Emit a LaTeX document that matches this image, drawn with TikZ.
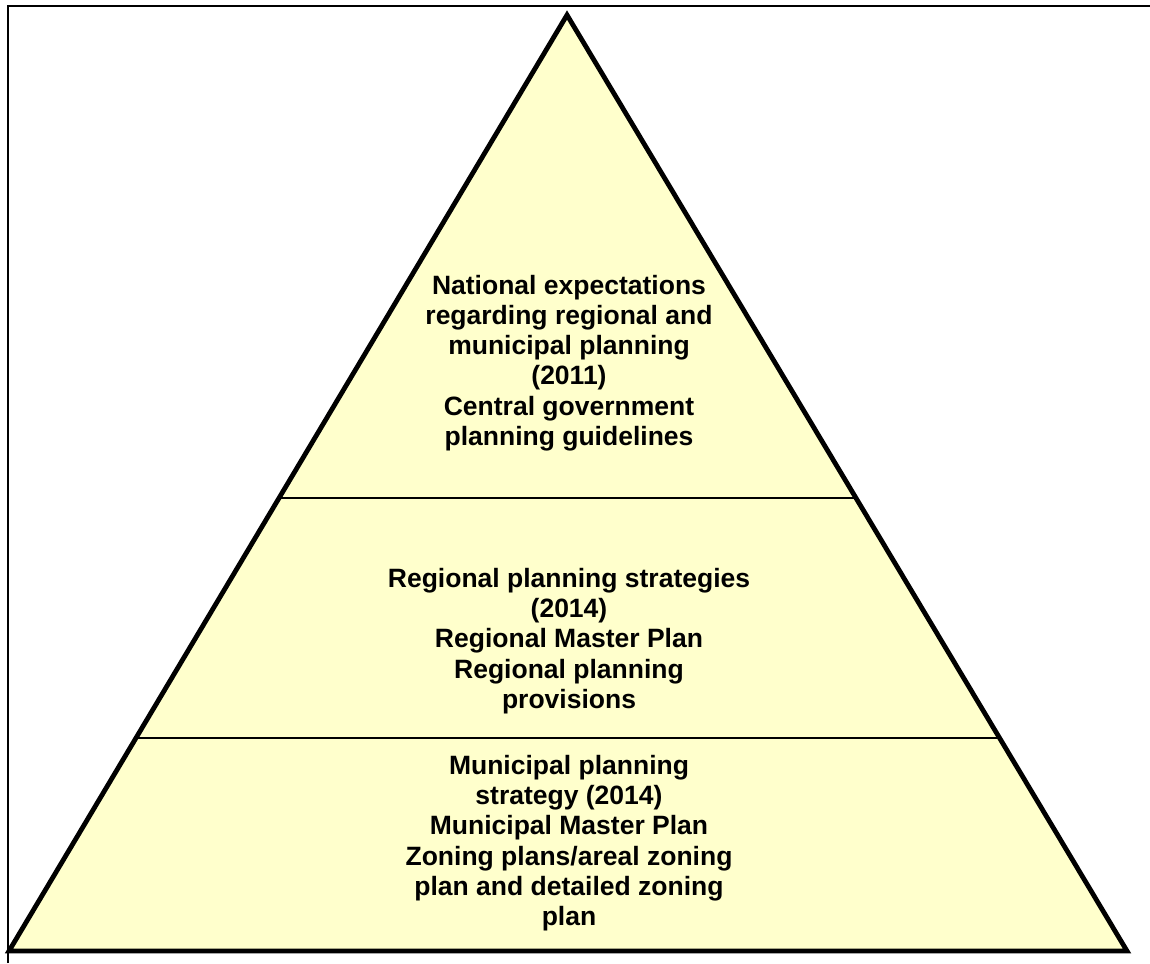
\documentclass[tikz,border=0pt]{standalone}
\usepackage{fontspec}
\setmainfont{Liberation Sans}
\definecolor{tierfill}{HTML}{FFFFCC}
\begin{document}
\begin{tikzpicture}[x=1pt,y=-1pt,
  tier/.style={fill=tierfill,draw=black,line width=4.8pt,line join=miter},
  divider/.style={draw=black,line width=2.6pt},
  label/.style={align=center,font=\bfseries\fontsize{26.5}{30.3}\selectfont,inner sep=0pt}]
  \useasboundingbox (0,0) rectangle (1150,963);
  % frame on top and left
  \draw[line width=1.5pt] (8,963) -- (8,6) -- (1150,6);
  % pyramid corners
  \coordinate (apex) at (567,15);
  \coordinate (bl) at (9,951);
  \coordinate (br) at (1127,951);
  \draw[tier] (apex) -- (bl) -- (br) -- cycle;
  % tier boundaries
  \path (apex) -- (bl) coordinate[pos=0.5160] (d1l);
  \path (apex) -- (br) coordinate[pos=0.5160] (d1r);
  \path (apex) -- (bl) coordinate[pos=0.7725] (d2l);
  \path (apex) -- (br) coordinate[pos=0.7725] (d2r);
  \draw[divider] (d1l) -- (d1r);
  \draw[divider] (d2l) -- (d2r);
  % tier texts
  \node[label] (top) at (569,363) {National expectations\\regarding regional and\\municipal planning\\(2011)\\Central government\\planning guidelines};
  \node[label] (mid) at (569,641) {Regional planning strategies\\(2014)\\Regional Master Plan\\Regional planning\\provisions};
  \node[label] (low) at (569,843) {Municipal planning\\strategy (2014)\\Municipal Master Plan\\Zoning plans/areal zoning\\plan and detailed zoning\\plan};
\end{tikzpicture}
\end{document}
